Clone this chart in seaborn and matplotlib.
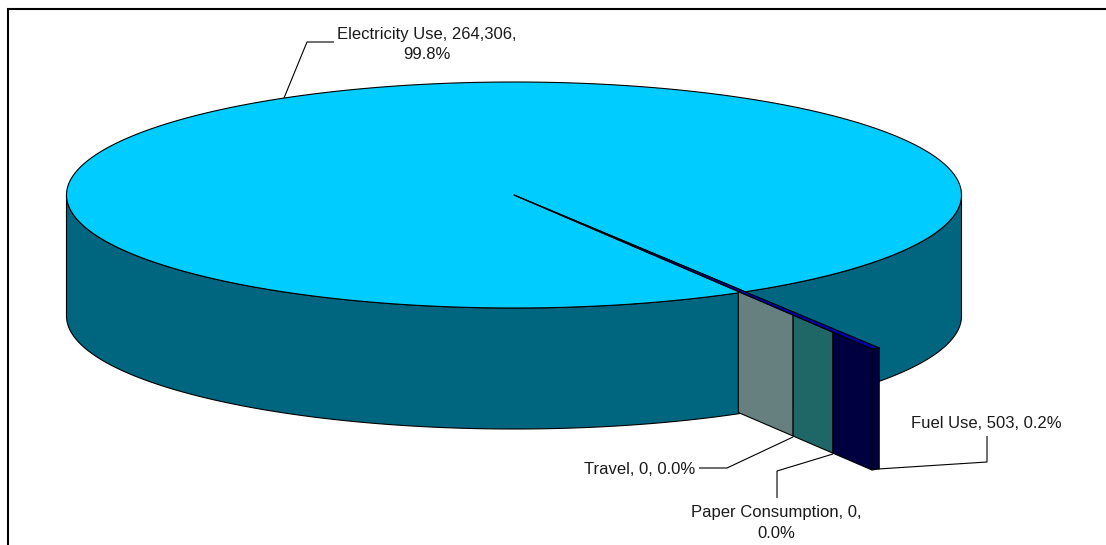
import numpy as np
import matplotlib
matplotlib.use("Agg")
import matplotlib.pyplot as plt
import seaborn as sns

categories = ["Fuel Use", "Paper Consumption", "Travel", "Electricity Use"]
emissions = [503, 0, 0, 264306]
share_labels = ["0.2%", "0.0%", "0.0%", "99.8%"]
value_labels = ["503", "0", "0", "264,306"]

TOP = "#00CCFF"
SIDE = "#006680"
WALLS = {"Travel": "#668080", "Paper Consumption": "#1F6666", "Fuel Use": "#000040"}
FUEL_TOP = "#0000A8"

sns.set_theme(style="white")
plt.rcParams["font.family"] = ["Liberation Sans", "DejaVu Sans"]

W, H = 1106, 545
fig = plt.figure(figsize=(W / 100, H / 100), dpi=100, facecolor="white")
ax = fig.add_axes([0, 0, 1, 1])
ax.set_xlim(0, W)
ax.set_ylim(H, 0)
ax.axis("off")

# Oblique pie geometry, in figure pixels
cx, cy, rx, ry, depth = 514.0, 195.0, 447.5, 113.0, 121.0
start_deg = 58.9


def rim(t, k=1.0, drop=0.0):
    t = np.radians(t)
    return cx + rx * k * np.cos(t), cy + ry * k * np.sin(t) + drop


# Slice sweeps run clockwise on screen from the starting angle
total = sum(emissions)
sweeps = np.array(emissions) / total * 360
edges = start_deg + np.concatenate([[0], np.cumsum(sweeps)])
fuel_a, fuel_b = edges[0], edges[1]
elec_a, elec_b = edges[3], edges[4]

EDGE = dict(edgecolor="black", linewidth=0.8, joinstyle="round")

# Outer wall of the large slice, either side of the cut
for a, b in [(0.0, fuel_a), (elec_a, 180.0)]:
    t = np.linspace(a, b, 160)
    xt, yt = rim(t)
    xb, yb = rim(t, drop=depth)
    ax.fill(np.r_[xt, xb[::-1]], np.r_[yt, yb[::-1]], facecolor=SIDE, **EDGE)

# Top of the large slice
t = np.linspace(elec_a, elec_b, 720)
xt, yt = rim(t)
ax.fill(np.r_[cx, xt], np.r_[cy, yt], facecolor=TOP, **EDGE)

# Cut-face panels for the fuel, paper and travel slices along the shared radius
panel_stops = [("Travel", 0.99, 1.232), ("Paper Consumption", 1.232, 1.408), ("Fuel Use", 1.408, 1.58)]
for name, k0, k1 in panel_stops:
    x0, y0 = rim(elec_a, k0)
    x1, y1 = rim(elec_a, k1)
    ax.fill([x0, x1, x1, x0], [y0, y1, y1 + depth, y0 + depth], facecolor=WALLS[name], **EDGE)

# Fuel slice: thin outer wall and top
k_out = 1.58
t = np.linspace(fuel_a, fuel_b, 8)
xt, yt = rim(t, k_out)
ax.fill(np.r_[xt, xt[::-1]], np.r_[yt, yt[::-1] + depth], facecolor=WALLS["Fuel Use"], **EDGE)
ax.fill(np.r_[cx, xt], np.r_[cy, yt], facecolor=FUEL_TOP, **EDGE)

# Leader lines
LEADER = dict(color="black", linewidth=0.8, solid_capstyle="butt")
ax.plot([284, 307, 334], [98, 42, 42], **LEADER)
ax.plot([793, 727, 699], [437, 468, 468], **LEADER)
ax.plot([833, 777, 777], [454, 471, 498], **LEADER)
ax.plot([878, 987, 987], [469, 462, 436], **LEADER)

# Data labels
TEXT = dict(fontsize=12, color="#1a1a1a", linespacing=1.42)
ax.text(427, 44.5, f"{categories[3]}, {value_labels[3]},\n{share_labels[3]}", ha="center", va="center", multialignment="center", **TEXT)
ax.text(986.5, 424, f"{categories[0]}, {value_labels[0]}, {share_labels[0]}", ha="center", va="center", **TEXT)
ax.text(640, 470, f"{categories[2]}, {value_labels[2]}, {share_labels[2]}", ha="center", va="center", **TEXT)
ax.text(776, 523, f"{categories[1]}, {value_labels[1]},\n{share_labels[1]}", ha="center", va="center", multialignment="center", **TEXT)

# Chart frame: left and top edges only
ax.plot([8, 8, W], [H, 9, 9], color="black", linewidth=1.5, solid_joinstyle="miter")

fig.savefig("out.png", dpi=100)
